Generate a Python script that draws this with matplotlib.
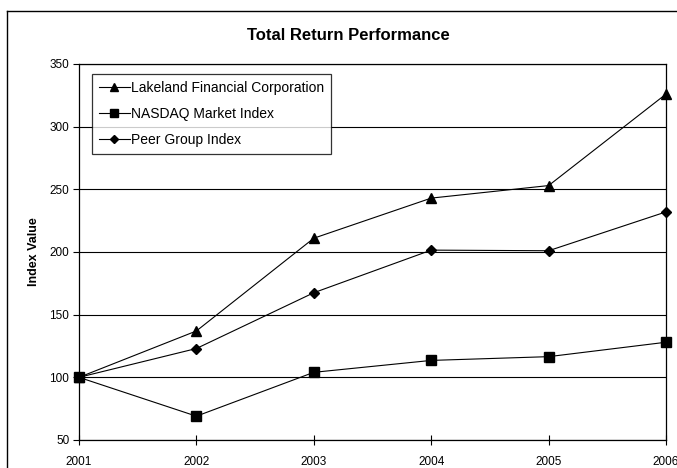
import matplotlib
matplotlib.use("Agg")
import matplotlib.pyplot as plt
from matplotlib.lines import Line2D

years = [2001, 2002, 2003, 2004, 2005, 2006]
lakeland = [100, 137, 211, 243, 253, 326]
nasdaq = [100, 69, 104, 113.5, 116.5, 128]
peer = [100, 123, 167.5, 201.5, 201, 232]
series_names = ["Lakeland Financial Corporation", "NASDAQ Market Index", "Peer Group Index"]
yticks = [50, 100, 150, 200, 250, 300, 350]

plt.rcParams['font.family'] = ['Liberation Sans', 'DejaVu Sans']

W, H = 677, 468
fig = plt.figure(figsize=(W / 100, H / 100), dpi=100)
fig.patch.set_facecolor('white')

# outer chart border (left and top visible)
fig.add_artist(Line2D([7 / W, 7 / W], [0, 1 - 11 / H], transform=fig.transFigure, color='black', lw=1))
fig.add_artist(Line2D([7 / W, 1.0], [1 - 11 / H, 1 - 11 / H], transform=fig.transFigure, color='black', lw=1))

left, right, top, bottom = 79, 666, 64, 440
ax = fig.add_axes([left / W, 1 - bottom / H, (right - left) / W, (bottom - top) / H])

specs = [(lakeland, '^', 7), (nasdaq, 's', 7), (peer, 'D', 5)]
handles = []
for (vals, mk, ms), name in zip(specs, series_names):
    h, = ax.plot(years, vals, color='black', lw=0.8, marker=mk, markersize=ms,
                 markerfacecolor='black', markeredgecolor='black', clip_on=False, zorder=5, label=name)
    handles.append(h)

ax.set_xlim(2001, 2006)
ax.set_ylim(50, 350)
ax.set_xticks(years)
ax.set_yticks(yticks)
ax.set_xticklabels([str(y) for y in years], fontsize=8.5)
ax.set_yticklabels([str(v) for v in yticks], fontsize=8.5)
ax.tick_params(axis='x', direction='inout', length=7, width=0.8, pad=8)
ax.tick_params(axis='y', direction='out', length=4, width=0.8, pad=3)
for s in ax.spines.values():
    s.set_linewidth(0.9)
    s.set_color('black')
ax.yaxis.grid(True, color='black', lw=0.8)
ax.set_axisbelow(True)

ax.set_ylabel("Index Value", fontsize=9, fontweight='bold')
ax.yaxis.set_label_coords((40 - left) / (right - left), 0.5)
fig.text(348 / W, 1 - 35 / H, "Total Return Performance", ha='center', va='center',
         fontsize=12, fontweight='bold')

leg = ax.legend(handles=handles, loc='upper left',
                bbox_to_anchor=((92 - left) / (right - left), 1 - (74 - top) / (bottom - top)),
                frameon=True, fancybox=False, edgecolor='black', fontsize=10, handlelength=2.2,
                handletextpad=0.1, labelspacing=0.85, borderpad=0.5, borderaxespad=0, markerscale=0.8)
leg.get_frame().set_linewidth(0.9)

fig.savefig("out.png", dpi=100)
